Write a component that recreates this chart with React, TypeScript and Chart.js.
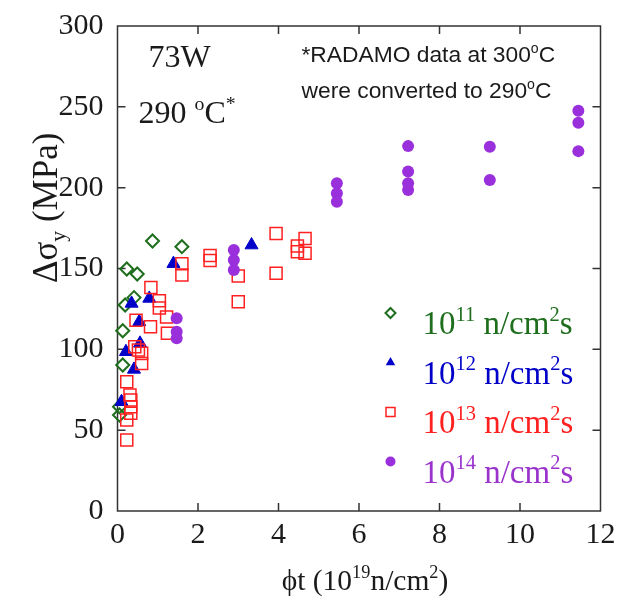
import React, { useEffect, useRef } from "react";
import { Chart, registerables } from "chart.js";
Chart.register(...registerables);

// ---- data ----
const xTicks = [0, 2, 4, 6, 8, 10, 12];
const yTicks = [0, 50, 100, 150, 200, 250, 300];

// 10^11 n/cm2s (green diamonds)
const f11x = [0.05, 0.05, 0.13, 0.13, 0.19, 0.41, 0.23, 0.49, 0.87, 1.6];
const f11y = [64.5, 59.4, 90.3, 111.5, 127.4, 132, 149.7, 146.6, 167, 163.5];

// 10^12 n/cm2s (blue triangles)
const f12x = [0.1, 0.21, 0.41, 0.56, 0.54, 0.35, 0.79, 1.39, 3.33];
const f12y = [67.6, 98.5, 87.6, 103.7, 117, 128.4, 131.5, 153, 164.5];

// 10^13 n/cm2s (red open squares)
const f13x = [0.23, 0.23, 0.33, 0.33, 0.33, 0.31, 0.23, 0.6, 0.6, 0.52, 0.43, 1.24, 0.82, 0.46, 1.22, 1.04, 1.04, 0.83, 1.6, 1.6, 2.3, 2.3, 3.0, 3.0, 3.94, 3.94, 4.47, 4.47, 4.66, 4.66];
const f13y = [43.9, 56.3, 60.4, 64.5, 68.6, 71.7, 80, 91.3, 97.5, 99.6, 101.6, 110, 114, 118, 120, 125.5, 130, 138.3, 146, 153, 158, 155, 129.4, 145.3, 171.7, 147, 163.9, 160.4, 168.6, 159.4];

// 10^14 n/cm2s (purple circles)
const f14x = [1.47, 1.47, 1.47, 2.89, 2.89, 2.89, 5.45, 5.45, 5.45, 7.22, 7.22, 7.22, 7.22, 9.25, 9.25, 11.45, 11.45, 11.45];
const f14y = [119.2, 110.9, 106.8, 161.4, 155.2, 149, 202.7, 196.5, 191.3, 225.7, 210, 202.8, 198.5, 225.3, 204.7, 247.6, 240.1, 222.6];

const legendExp = ["11", "12", "13", "14"];

// ---- styles ----
const GREEN = "#1e6e1e";
const BLUE = "#0000c8";
const RED = "#ff2020";
const PURPLE = "#9a2fdc";
const PURPLE_TXT = "#9933cc";
const SERIF = '"Liberation Serif", "Times New Roman", serif';
const SANS = '"Liberation Sans", Arial, sans-serif';
const INK = "#1a1a1a";

type Seg = { t: string; sup?: boolean; sub?: boolean };

function richWidth(ctx: CanvasRenderingContext2D, segs: Seg[], size: number, family: string) {
  let w = 0;
  for (const s of segs) {
    ctx.font = `${s.sup || s.sub ? size * 0.62 : size}px ${family}`;
    w += ctx.measureText(s.t).width;
  }
  return w;
}

function drawRich(
  ctx: CanvasRenderingContext2D,
  segs: Seg[],
  x: number,
  y: number,
  size: number,
  family: string,
  color: string,
  align: "left" | "center" = "left"
) {
  const w = richWidth(ctx, segs, size, family);
  let cx = align === "center" ? x - w / 2 : x;
  ctx.fillStyle = color;
  ctx.textAlign = "left";
  ctx.textBaseline = "alphabetic";
  for (const s of segs) {
    const sz = s.sup || s.sub ? size * 0.62 : size;
    ctx.font = `${sz}px ${family}`;
    const dy = s.sup ? -size * 0.4 : s.sub ? size * 0.22 : 0;
    ctx.fillText(s.t, cx, y + dy);
    cx += ctx.measureText(s.t).width;
  }
}

function marker(ctx: CanvasRenderingContext2D, kind: string, x: number, y: number, color: string) {
  ctx.save();
  ctx.strokeStyle = color;
  ctx.fillStyle = color;
  ctx.beginPath();
  if (kind === "diamond") {
    const r = 5;
    ctx.lineWidth = 2;
    ctx.moveTo(x, y - r);
    ctx.lineTo(x + r, y);
    ctx.lineTo(x, y + r);
    ctx.lineTo(x - r, y);
    ctx.closePath();
    ctx.stroke();
  } else if (kind === "triangle") {
    const r = 5.5;
    ctx.moveTo(x, y - r);
    ctx.lineTo(x + r * 0.866, y + r * 0.5);
    ctx.lineTo(x - r * 0.866, y + r * 0.5);
    ctx.closePath();
    ctx.fill();
  } else if (kind === "square") {
    const h = 4.5;
    ctx.lineWidth = 1.5;
    ctx.rect(x - h, y - h, 2 * h, 2 * h);
    ctx.stroke();
  } else {
    ctx.arc(x, y, 5, 0, Math.PI * 2);
    ctx.fill();
  }
  ctx.restore();
}

const framePlugin = {
  id: "frame",
  beforeDatasetsDraw(chart: any) {
    const { ctx, chartArea, scales } = chart;
    const { left, right, top, bottom } = chartArea;
    ctx.save();
    ctx.strokeStyle = "#333";
    ctx.lineWidth = 1.5;
    ctx.strokeRect(left, top, right - left, bottom - top);
    const tl = 8;
    ctx.beginPath();
    for (const v of xTicks.slice(1, -1)) {
      const px = scales.x.getPixelForValue(v);
      ctx.moveTo(px, bottom);
      ctx.lineTo(px, bottom - tl);
      ctx.moveTo(px, top);
      ctx.lineTo(px, top + tl);
    }
    for (const v of yTicks.slice(1, -1)) {
      const py = scales.y.getPixelForValue(v);
      ctx.moveTo(left, py);
      ctx.lineTo(left + tl, py);
      ctx.moveTo(right, py);
      ctx.lineTo(right - tl, py);
    }
    ctx.stroke();
    ctx.restore();
  },
  afterDraw(chart: any) {
    const { ctx, chartArea } = chart;
    const { left, right, top } = chartArea;
    ctx.save();
    // annotations
    drawRich(ctx, [{ t: "73W" }], left + 31, top + 41, 32, SERIF, INK);
    drawRich(ctx, [{ t: "290 " }, { t: "o", sup: true }, { t: "C" }, { t: "*", sup: true }], left + 21, top + 97, 32, SERIF, INK);
    drawRich(ctx, [{ t: "*RADAMO data at 300" }, { t: "o", sup: true }, { t: "C" }], left + 184, top + 36, 22.8, SANS, INK);
    drawRich(ctx, [{ t: "were converted to 290" }, { t: "o", sup: true }, { t: "C" }], left + 184, top + 72, 22.8, SANS, INK);

    // legend
    const kinds = ["diamond", "triangle", "square", "circle"];
    const mcol = [GREEN, BLUE, RED, PURPLE];
    const tcol = [GREEN, BLUE, RED, PURPLE_TXT];
    const lx = left + 273;
    for (let i = 0; i < 4; i++) {
      const base = top + 308 + i * 49.5;
      marker(ctx, kinds[i], lx, base - 21, mcol[i]);
      drawRich(
        ctx,
        [{ t: "10" }, { t: legendExp[i], sup: true }, { t: " n/cm" }, { t: "2", sup: true }, { t: "s" }],
        lx + 32,
        base,
        33,
        SERIF,
        tcol[i]
      );
    }

    // axis titles
    drawRich(ctx, [{ t: "ϕt (10" }, { t: "19", sup: true }, { t: "n/cm" }, { t: "2", sup: true }, { t: ")" }], (left + right) / 2 + 6, 582, 29.5, SERIF, INK, "center");
    ctx.translate(49, 275);
    ctx.rotate(-Math.PI / 2);
    drawRich(ctx, [{ t: "Δσ" }, { t: "y", sub: true }, { t: " (MPa)" }], 0, 0, 35, SERIF, INK);
    ctx.restore();
  },
};

function pts(xs: number[], ys: number[]) {
  return xs.map((x, i) => ({ x, y: ys[i] }));
}

export default function App() {
  const ref = useRef<HTMLCanvasElement | null>(null);
  useEffect(() => {
    if (!ref.current) return;
    document.body.style.marginRight = "0px";
    const tickFont = { family: SERIF, size: 30 };
    const chart = new Chart(ref.current, {
      type: "scatter",
      data: {
        datasets: [
          {
            label: "1e14",
            data: pts(f14x, f14y),
            pointStyle: "circle",
            pointRadius: 6,
            pointBackgroundColor: PURPLE,
            pointBorderColor: PURPLE,
            pointBorderWidth: 0,
            order: 0,
            clip: false,
          } as any,
          {
            label: "1e13",
            data: pts(f13x, f13y),
            pointStyle: "rect",
            pointRadius: 8.5,
            pointBackgroundColor: "rgba(0,0,0,0)",
            pointBorderColor: RED,
            pointBorderWidth: 1.5,
            order: 1,
            clip: false,
          },
          {
            label: "1e12",
            data: pts(f12x, f12y),
            pointStyle: "triangle",
            pointRadius: 7.5,
            pointBackgroundColor: BLUE,
            pointBorderColor: BLUE,
            pointBorderWidth: 1,
            order: 2,
            clip: false,
          },
          {
            label: "1e11",
            data: pts(f11x, f11y),
            pointStyle: "rectRot",
            pointRadius: 6.5,
            pointBackgroundColor: "rgba(0,0,0,0)",
            pointBorderColor: GREEN,
            pointBorderWidth: 2,
            order: 3,
            clip: false,
          },
        ],
      },
      options: {
        responsive: false,
        animation: false,
        events: [],
        layout: { padding: { top: 18, right: 17.5, left: 0, bottom: 0 } },
        plugins: { legend: { display: false }, tooltip: { enabled: false } },
        scales: {
          x: {
            type: "linear",
            min: 0,
            max: 12,
            afterBuildTicks: (s: any) => {
              s.ticks = xTicks.map((v) => ({ value: v }));
            },
            ticks: { font: tickFont, color: INK, padding: 6, maxRotation: 0, autoSkip: false },
            grid: { display: false, drawTicks: false },
            border: { display: false },
            afterFit: (s: any) => {
              s.height = 86;
              s.paddingLeft = 0;
              s.paddingRight = 0;
            },
          },
          y: {
            type: "linear",
            min: 0,
            max: 300,
            afterBuildTicks: (s: any) => {
              s.ticks = yTicks.map((v) => ({ value: v }));
            },
            ticks: { font: tickFont, color: INK, padding: 14, autoSkip: false },
            grid: { display: false, drawTicks: false },
            border: { display: false },
            afterFit: (s: any) => {
              s.width = 109.5;
              s.paddingTop = 0;
              s.paddingBottom = 0;
            },
          },
        },
      },
      plugins: [framePlugin],
    });
    return () => chart.destroy();
  }, []);
  return (
    <div style={{ width: 610, height: 589 }}>
      <canvas ref={ref} width={610} height={589} style={{ display: "block" }} />
    </div>
  );
}
